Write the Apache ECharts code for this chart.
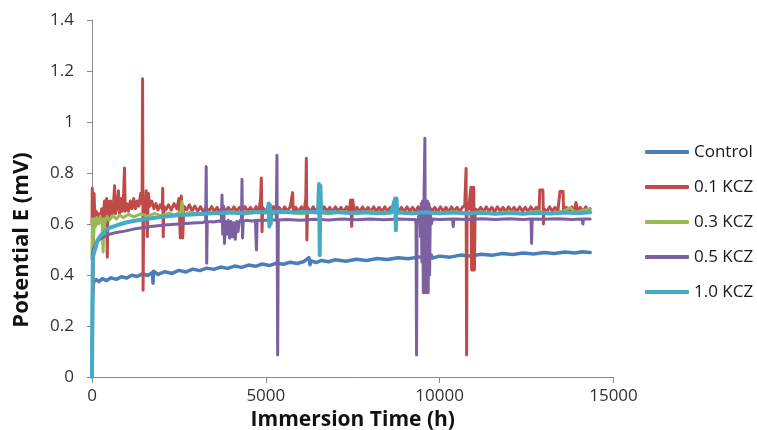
<!DOCTYPE html>
<html>
<head>
<meta charset="utf-8">
<script src="https://cdn.jsdelivr.net/npm/echarts@6/dist/echarts.min.js"></script>
<style>
  html, body { margin: 0; padding: 0; background: #fff; }
  #chart { width: 757px; height: 430px; }
</style>
</head>
<body>
<div id="chart"></div>
<script>
// Open-circuit potential vs. immersion time, [hours, volts]
const seriesNames = ['Control', '0.1 KCZ', '0.3 KCZ', '0.5 KCZ', '1.0 KCZ'];
const yTicks = [0, 0.2, 0.4, 0.6, 0.8, 1, 1.2, 1.4];
const xTicks = [0, 5000, 10000, 15000];

const control = [
  [0,0],[15,0.30],[30,0.36],[60,0.375],[120,0.382],[200,0.374],[300,0.386],[420,0.378],[550,0.389],
  [700,0.383],[850,0.393],[1000,0.388],[1150,0.399],[1300,0.394],[1450,0.405],[1600,0.398],[1740,0.41],
  [1755,0.368],[1770,0.415],[1900,0.402],[2100,0.413],[2300,0.406],[2500,0.418],[2700,0.412],[2900,0.423],
  [3100,0.417],[3300,0.427],[3500,0.422],[3700,0.431],[3900,0.426],[4100,0.435],[4300,0.43],[4500,0.439],
  [4700,0.434],[4900,0.443],[5100,0.437],[5300,0.446],[5500,0.442],[5700,0.45],[5900,0.445],[6100,0.453],
  [6240,0.468],[6270,0.44],[6300,0.455],[6450,0.449],[6600,0.457],[6800,0.452],[7000,0.46],[7300,0.454],
  [7600,0.462],[7900,0.457],[8200,0.465],[8500,0.461],[8800,0.468],[9100,0.464],[9400,0.471],[9700,0.467],
  [9760,0.478],[9790,0.466],[10000,0.474],[10300,0.47],[10600,0.478],[10900,0.474],[11200,0.481],[11500,0.477],
  [11800,0.484],[12100,0.48],[12400,0.486],[12700,0.482],[13000,0.488],[13300,0.484],[13600,0.49],[13900,0.486],
  [14100,0.491],[14330,0.488]
];

const kcz01 = [
  [0,0.60],[8,0.74],[18,0.64],[28,0.33],[40,0.61],[60,0.72],[85,0.60],[120,0.65],[160,0.61],[200,0.64],
  [240,0.61],[280,0.66],[320,0.62],[360,0.69],[390,0.63],[420,0.70],[440,0.47],[460,0.69],[500,0.63],
  [540,0.69],[580,0.64],[620,0.68],[650,0.75],[670,0.64],[720,0.67],[760,0.73],[790,0.64],[830,0.70],
  [870,0.65],[910,0.72],[935,0.82],[955,0.65],[1000,0.68],[1050,0.65],[1100,0.69],[1150,0.66],[1200,0.70],
  [1250,0.66],[1300,0.69],[1350,0.67],[1400,0.72],[1440,0.68],[1455,1.17],[1470,0.34],[1490,0.70],
  [1530,0.66],[1560,0.73],[1590,0.55],[1620,0.72],[1660,0.67],[1720,0.69],[1780,0.66],[1840,0.68],
  [1900,0.655],[1960,0.675],[2020,0.66],[2035,0.74],[2050,0.55],[2065,0.67],[2120,0.655],[2200,0.675],
  [2280,0.655],[2360,0.68],[2440,0.66],[2500,0.70],[2540,0.545],[2570,0.71],[2610,0.545],[2640,0.67],
  [2720,0.655],[2800,0.675],[2880,0.652],[2960,0.67],[3040,0.65],[3120,0.668],[3200,0.648],[3280,0.665],
  [3360,0.648],[3440,0.668],[3520,0.65],[3600,0.665],[3680,0.645],[3760,0.668],[3840,0.65],[3920,0.665],
  [4000,0.648],[4080,0.667],[4160,0.65],[4240,0.665],[4320,0.648],[4400,0.668],[4480,0.65],[4560,0.665],
  [4640,0.648],[4720,0.668],[4800,0.65],[4850,0.70],[4870,0.78],[4890,0.57],[4910,0.665],[4980,0.648],
  [5060,0.665],[5140,0.648],[5220,0.668],[5300,0.65],[5380,0.665],[5460,0.648],[5540,0.667],[5620,0.65],
  [5700,0.668],[5770,0.723],[5790,0.645],[5860,0.665],[5940,0.648],[6020,0.667],[6100,0.65],[6150,0.70],
  [6165,0.858],[6180,0.537],[6200,0.665],[6280,0.648],[6360,0.667],[6440,0.65],[6520,0.665],[6600,0.648],
  [6680,0.667],[6760,0.65],[6840,0.665],[6920,0.648],[7000,0.667],[7080,0.65],[7160,0.665],[7240,0.648],
  [7320,0.667],[7400,0.65],[7440,0.694],[7470,0.59],[7500,0.694],[7540,0.65],[7620,0.665],[7700,0.648],
  [7780,0.667],[7860,0.65],[7940,0.665],[8020,0.648],[8100,0.667],[8180,0.65],[8260,0.665],[8340,0.648],
  [8420,0.667],[8500,0.65],[8580,0.665],[8660,0.648],[8740,0.667],[8820,0.65],[8900,0.665],[8980,0.648],
  [9060,0.667],[9140,0.65],[9220,0.665],[9300,0.648],[9380,0.667],[9460,0.65],[9540,0.665],[9620,0.648],
  [9700,0.667],[9780,0.65],[9860,0.665],[9940,0.648],[10020,0.667],[10100,0.65],[10180,0.665],[10260,0.648],
  [10340,0.667],[10420,0.65],[10500,0.665],[10580,0.648],[10660,0.667],[10720,0.67],[10760,0.818],
  [10775,0.086],[10790,0.68],[10830,0.66],[10900,0.744],[10920,0.42],[10940,0.74],[10960,0.42],[10980,0.744],
  [11000,0.42],[11020,0.66],[11100,0.65],[11180,0.665],[11260,0.648],[11340,0.667],[11420,0.65],[11500,0.665],
  [11580,0.648],[11660,0.667],[11740,0.65],[11820,0.665],[11900,0.648],[11980,0.667],[12060,0.65],[12140,0.665],
  [12220,0.648],[12300,0.667],[12380,0.65],[12460,0.665],[12540,0.648],[12620,0.667],[12700,0.65],[12780,0.665],
  [12860,0.65],[12880,0.733],[12970,0.733],[12985,0.60],[13000,0.66],[13080,0.648],[13160,0.667],[13240,0.65],
  [13320,0.665],[13400,0.65],[13460,0.727],[13550,0.727],[13565,0.645],[13640,0.665],[13720,0.648],[13800,0.667],
  [13880,0.65],[13920,0.684],[13950,0.684],[13965,0.65],[14040,0.665],[14120,0.648],[14200,0.667],[14280,0.65],
  [14330,0.66]
];

const kcz03 = [
  [0,0.48],[10,0.62],[20,0.50],[35,0.62],[50,0.55],[70,0.62],[100,0.59],[140,0.625],[190,0.60],[240,0.63],
  [290,0.60],[320,0.49],[345,0.62],[380,0.605],[430,0.63],[500,0.615],[600,0.632],[700,0.62],[800,0.635],
  [900,0.625],[1050,0.638],[1200,0.628],[1400,0.64],[1600,0.63],[1800,0.642],[2000,0.632],[2200,0.643],
  [2400,0.635],[2560,0.65],[2590,0.688],[2620,0.635],[2800,0.645],[3100,0.637],[3400,0.646],[3700,0.638],
  [4000,0.647],[4400,0.639],[4800,0.648],[5200,0.64],[5600,0.648],[6000,0.64],[6400,0.648],[6800,0.64],
  [7200,0.648],[7600,0.64],[8000,0.648],[8400,0.64],[8800,0.648],[9200,0.64],[9600,0.648],[10000,0.64],
  [10400,0.648],[10800,0.64],[11200,0.648],[11600,0.64],[12000,0.648],[12400,0.64],[12800,0.65],[13200,0.64],
  [13600,0.652],[13750,0.665],[13900,0.645],[14330,0.66]
];

const kcz05 = [
  [0,0.46],[15,0.49],[40,0.50],[80,0.515],[150,0.53],[250,0.543],[360,0.55],[500,0.56],[700,0.567],
  [940,0.572],[1200,0.58],[1450,0.585],[1700,0.59],[2090,0.596],[2500,0.6],[2900,0.604],[3200,0.606],
  [3270,0.61],[3285,0.825],[3300,0.446],[3315,0.61],[3500,0.608],[3650,0.612],[3720,0.61],[3740,0.714],
  [3760,0.56],[3790,0.67],[3810,0.524],[3840,0.61],[3880,0.56],[3920,0.615],[3960,0.545],[4000,0.61],
  [4040,0.55],[4080,0.605],[4120,0.54],[4160,0.61],[4200,0.57],[4240,0.61],[4300,0.62],[4315,0.775],
  [4330,0.545],[4350,0.61],[4450,0.615],[4600,0.612],[4700,0.614],[4730,0.498],[4750,0.615],[4900,0.614],
  [5100,0.616],[5300,0.616],[5320,0.87],[5340,0.086],[5360,0.616],[5600,0.618],[6000,0.615],[6400,0.619],
  [6800,0.616],[7200,0.62],[7600,0.617],[8000,0.62],[8400,0.617],[8800,0.62],[9200,0.618],[9300,0.618],
  [9320,0.60],[9335,0.086],[9350,0.60],[9400,0.63],[9430,0.66],[9450,0.55],[9470,0.68],[9490,0.45],
  [9510,0.69],[9530,0.33],[9550,0.70],[9575,0.936],[9590,0.33],[9610,0.69],[9630,0.33],[9650,0.69],
  [9670,0.33],[9690,0.68],[9710,0.40],[9730,0.64],[9760,0.60],[9800,0.62],[10000,0.618],[10370,0.62],
  [10390,0.59],[10410,0.62],[10800,0.618],[11200,0.621],[11600,0.618],[12000,0.621],[12400,0.618],
  [12630,0.62],[12645,0.524],[12660,0.62],[13000,0.619],[13400,0.621],[13800,0.618],[14100,0.62],
  [14120,0.60],[14140,0.62],[14330,0.62]
];

const kcz10 = [
  [0,0],[10,0.2],[20,0.42],[30,0.47],[60,0.49],[100,0.505],[160,0.537],[250,0.555],[360,0.57],[500,0.585],
  [735,0.596],[1000,0.607],[1310,0.615],[1650,0.622],[2090,0.629],[2530,0.635],[3000,0.638],[3470,0.642],
  [3900,0.645],[4300,0.643],[4700,0.647],[5000,0.645],[5060,0.66],[5080,0.68],[5100,0.59],[5120,0.675],
  [5140,0.60],[5160,0.645],[5400,0.648],[5800,0.645],[6200,0.648],[6500,0.645],[6530,0.757],[6550,0.478],
  [6570,0.75],[6590,0.645],[7000,0.647],[7400,0.643],[7800,0.646],[8200,0.642],[8600,0.645],[8720,0.70],
  [8740,0.576],[8760,0.70],[8780,0.645],[9200,0.642],[9600,0.646],[10000,0.642],[10400,0.645],[10800,0.641],
  [11200,0.644],[11600,0.64],[12000,0.643],[12400,0.64],[12800,0.644],[13200,0.641],[13600,0.645],
  [14000,0.642],[14330,0.646]
];

const seriesData = [control, kcz01, kcz03, kcz05, kcz10];
const colors = ['#4A7EBB', '#BE4B48', '#98B954', '#7D60A0', '#46AAC5'];
const widths = [3.5, 3, 3, 3, 4];

const FONT = '"Open Sans", "Liberation Sans", sans-serif';
const chart = echarts.init(document.getElementById('chart'), null, { renderer: 'canvas' });

chart.setOption({
  animation: false,
  backgroundColor: '#ffffff',
  color: colors,
  grid: { left: 92, right: 143.5, top: 20, bottom: 53, containLabel: false, outerBoundsMode: 'none' },
  legend: {
    orient: 'vertical',
    left: 645,
    top: 143.5,
    padding: 0,
    itemWidth: 44,
    itemHeight: 4,
    itemGap: 18,
    icon: 'roundRect',
    textStyle: { fontFamily: FONT, fontSize: 17, color: '#1a1a1a', lineHeight: 17 },
    data: seriesNames
  },
  graphic: [{
    type: 'text',
    x: 22,
    y: 240,
    rotation: Math.PI / 2,
    style: {
      text: 'Potential E (mV)',
      fontFamily: FONT,
      fontSize: 22,
      fontWeight: 'bold',
      fill: '#111',
      align: 'center',
      verticalAlign: 'middle'
    }
  }],
  xAxis: {
    type: 'value',
    min: xTicks[0],
    max: xTicks[xTicks.length - 1],
    interval: xTicks[1] - xTicks[0],
    name: 'Immersion Time (h)',
    nameLocation: 'middle',
    nameGap: 29,
    nameTextStyle: { fontFamily: FONT, fontSize: 21, fontWeight: 'bold', color: '#111' },
    axisLine: { show: true, lineStyle: { color: '#8a8a8a', width: 1 } },
    axisTick: { show: true, length: 6, lineStyle: { color: '#8a8a8a' } },
    axisLabel: { fontFamily: FONT, fontSize: 17, color: '#333', margin: 11, formatter: v => String(v) },
    splitLine: { show: false }
  },
  yAxis: {
    type: 'value',
    min: yTicks[0],
    max: yTicks[yTicks.length - 1],
    interval: 0.2,
    axisLine: { show: true, lineStyle: { color: '#8a8a8a', width: 1 } },
    axisTick: { show: true, length: 5, lineStyle: { color: '#8a8a8a' } },
    axisLabel: {
      fontFamily: FONT, fontSize: 17, color: '#333', margin: 18,
      formatter: v => String(parseFloat(v.toFixed(1)))
    },
    splitLine: { show: false }
  },
  series: seriesNames.map((name, i) => ({
    name,
    type: 'line',
    data: seriesData[i],
    showSymbol: false,
    symbol: 'none',
    lineStyle: { width: widths[i], color: colors[i], join: 'round', cap: 'round' },
    itemStyle: { color: colors[i] },
    emphasis: { disabled: true },
    z: 2 + i
  }))
});
</script>
</body>
</html>
